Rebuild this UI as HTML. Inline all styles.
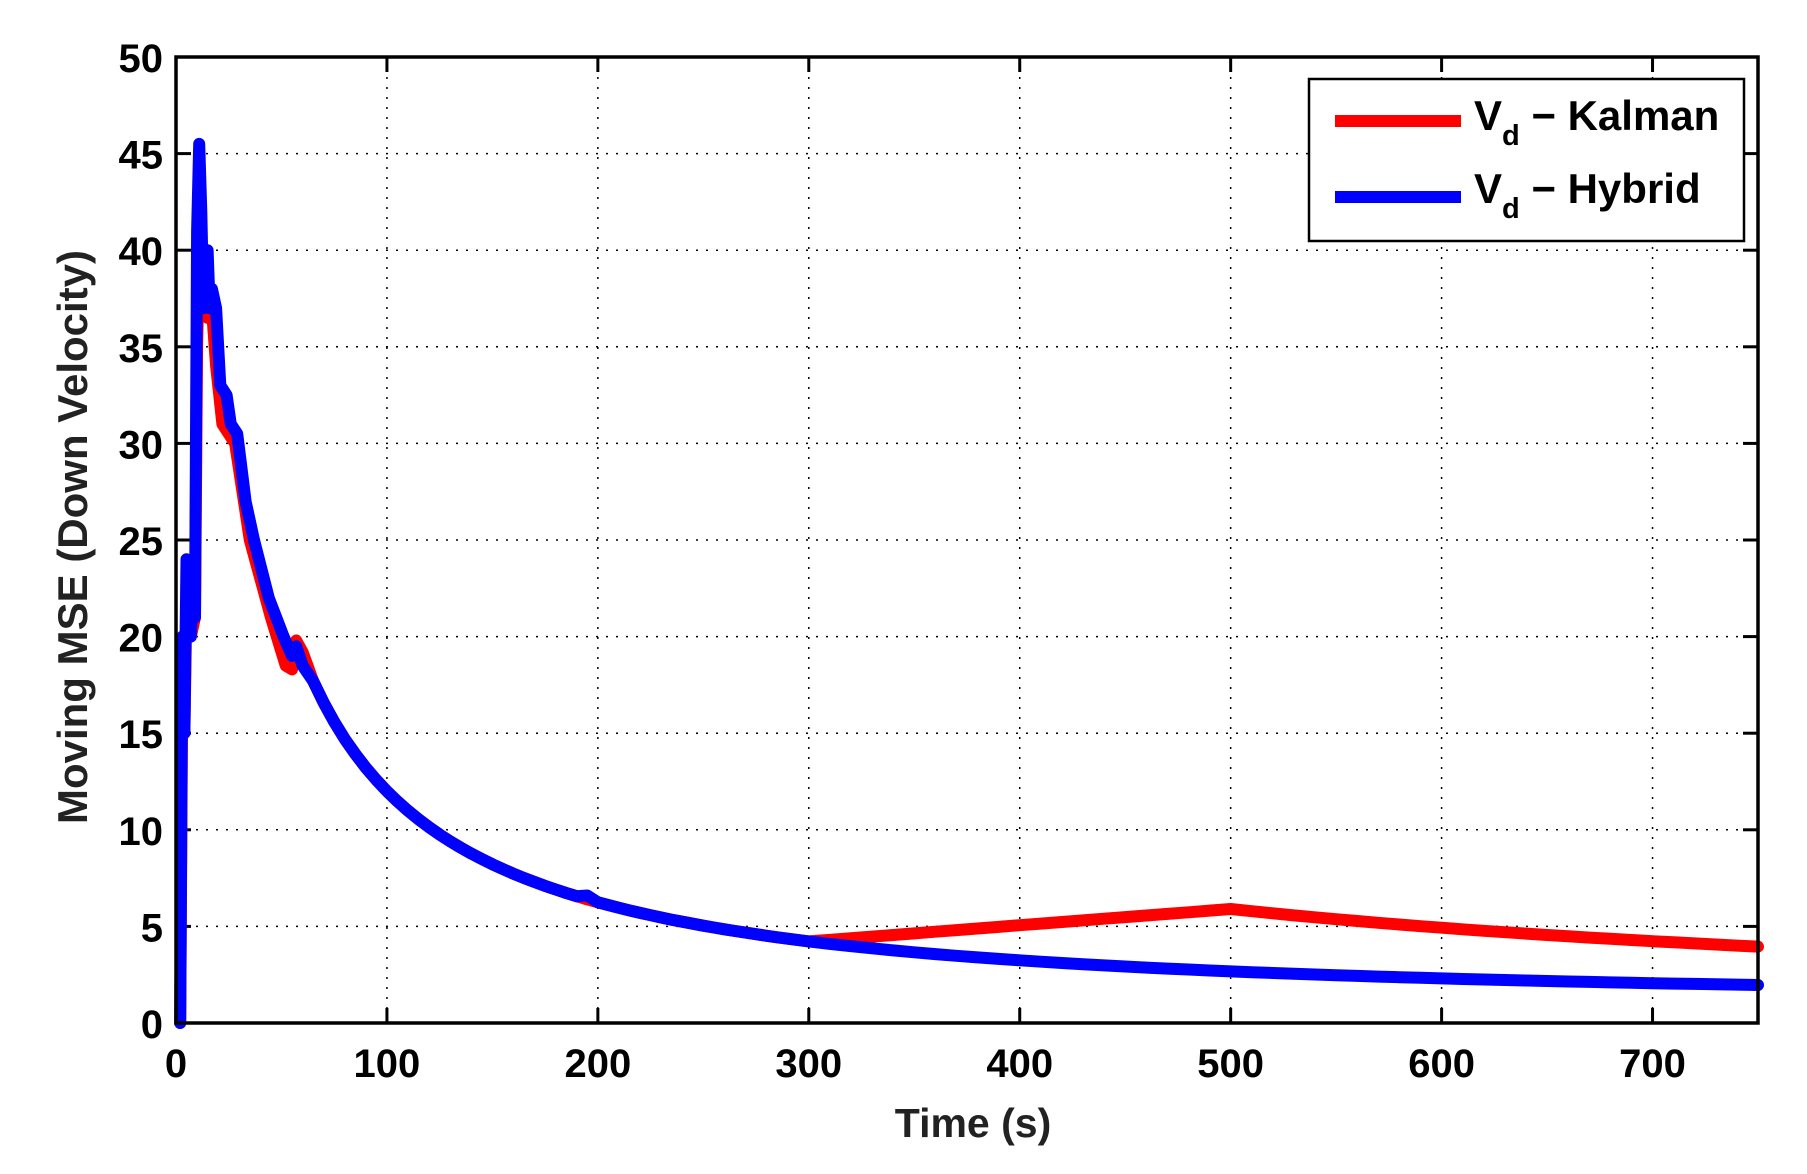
<!DOCTYPE html>
<html><head><meta charset="utf-8"><style>
html,body{margin:0;padding:0;background:#fff;}
svg{display:block;font-family:"Liberation Sans",Arial,sans-serif;font-weight:bold;}
</style></head><body>
<svg id="s" width="1807" height="1174" viewBox="0 0 1807 1174" xmlns="http://www.w3.org/2000/svg">
<rect width="1807" height="1174" fill="#fff"/>
<g id="grid" stroke="#000" stroke-width="1.5" stroke-dasharray="2,8"></g>
<g id="ticks" stroke="#000" stroke-width="3"></g>
<g id="lbl" font-size="40" fill="#000"></g>
<path id="k" fill="none" stroke="#ff0000" stroke-width="12" stroke-linejoin="round" stroke-linecap="round"/>
<path id="h" fill="none" stroke="#0000ff" stroke-width="12" stroke-linejoin="round" stroke-linecap="round"/>
<rect x="176" y="57" width="1582" height="966" fill="none" stroke="#000" stroke-width="3.5"/>
<text x="973" y="1137" font-size="41" text-anchor="middle" fill="#222">Time (s)</text>
<text transform="translate(87,537) rotate(-90)" font-size="42" text-anchor="middle" fill="#222">Moving MSE (Down Velocity)</text>
<rect x="1309" y="79" width="435" height="162" fill="#fff" stroke="#000" stroke-width="2.5"/>
<line x1="1335" y1="121" x2="1461" y2="121" stroke="#ff0000" stroke-width="12"/>
<line x1="1335" y1="197" x2="1461" y2="197" stroke="#0000ff" stroke-width="12"/>
<text x="1474" y="130" font-size="42" fill="#000">V<tspan font-size="29" dy="15">d</tspan><tspan dy="-15"> − Kalman</tspan></text>
<text x="1474" y="203" font-size="42" fill="#000">V<tspan font-size="29" dy="15">d</tspan><tspan dy="-15"> − Hybrid</tspan></text>
</svg>
<script>
var X=function(t){return 176+t*1582/750;},Y=function(v){return 1023-v*966/50;};
var ns="http://www.w3.org/2000/svg";
function el(p,tag,a,txt){var e=document.createElementNS(ns,tag);for(var k in a)e.setAttribute(k,a[k]);if(txt!=null)e.textContent=txt;document.getElementById(p).appendChild(e);}
for(var t=0;t<=700;t+=100){var x=X(t);
 if(t>0)el("grid","line",{x1:x,y1:57,x2:x,y2:1023});
 el("ticks","line",{x1:x,y1:1023,x2:x,y2:1008});el("ticks","line",{x1:x,y1:57,x2:x,y2:72});
 el("lbl","text",{x:x,y:1077,"text-anchor":"middle"},t);}
for(var v=0;v<=50;v+=5){var y=Y(v);
 if(v>0&&v<50)el("grid","line",{x1:176,y1:y,x2:1758,y2:y});
 el("ticks","line",{x1:176,y1:y,x2:191,y2:y});el("ticks","line",{x1:1758,y1:y,x2:1743,y2:y});
 el("lbl","text",{x:163,y:y+15,"text-anchor":"end"},v);}
function path(pts){return pts.map(function(p,i){return (i?"L":"M")+X(p[0]).toFixed(1)+","+Y(p[1]).toFixed(1);}).join(" ");}
function dec(t){return 1303/(t+8.6);}
var k=[[2,0],[3,18],[4,15],[5,22],[7,20],[9,21],[10,35],[11,40],[13,37],[15,36.5],[17,37],[19,34],[22,31],[28,30],[35,25],[45,21],[52,18.5],[55,18.3],[57,19.8],[60,19.2]];
for(var t=65;t<=300;t+=5)k.push([t,dec(t)]);
for(var t=310;t<=500;t+=10)k.push([t,4.22+(5.9-4.22)*(t-300)/200]);
for(var t=510;t<=750;t+=10)k.push([t,5.9*508.6/(t+8.6)]);
var h=[[2,0],[3,20],[4,15],[5,24],[6,22],[7,20],[8,24],[9,21],[10,41],[11,45.5],[12,42],[13,37],[14,39],[15,40],[16,37],[17,38],[19,37],[21,33],[24,32.5],[26,31],[29,30.5],[33,27],[37,25],[44,22],[51,20],[55,19],[57,19.5],[60,18.5]];
for(var t=65;t<=300;t+=5)h.push([t,dec(t)+(t>190&&t<200?0.2:0)]);
for(var t=310;t<=750;t+=10)h.push([t,dec(t)+0.25*(t-300)/450]);
document.getElementById("k").setAttribute("d",path(k));
document.getElementById("h").setAttribute("d",path(h));
</script>
</body></html>
